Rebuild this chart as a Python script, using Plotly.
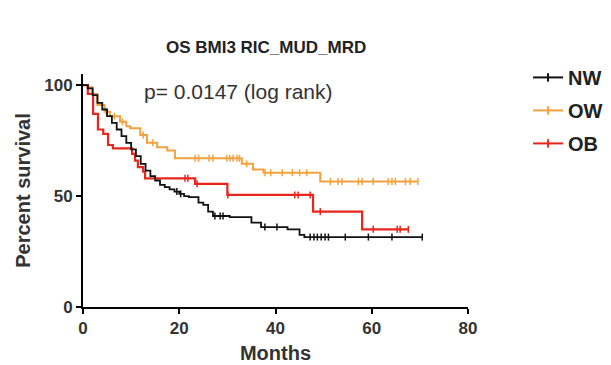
import numpy as np
import plotly.graph_objects as go

# ---- data ----
groups = ["NW", "OW", "OB"]

NW_t = [0, 1, 2, 3, 4, 5, 6, 7, 8, 9, 10, 11, 12, 13, 14, 15, 16, 17, 18, 19, 20, 21, 22, 24, 25, 26, 27, 30.5, 35, 37, 42.5, 45, 46]
NW_s = [100, 98.5, 95.5, 92, 89, 86, 83, 80, 77, 74, 71, 68, 64.5, 61.5, 59, 57, 55, 54, 53, 52, 51, 50, 49.5, 47, 46, 43, 41, 40.5, 38, 36, 35, 32.5, 31.5]
NW_end = 70.5
NW_c = [19.5, 20.3, 27.4, 28.5, 29.1, 37.8, 40.3, 47.2, 48, 48.7, 49.5, 50.3, 51, 54.5, 59.3, 64.2, 70.5]

OW_t = [0, 1, 2, 3, 4.5, 5.6, 7.7, 9, 9.8, 11.9, 13.3, 15.4, 17.5, 19.1, 33, 35.3, 37.5, 49.3]
OW_s = [100, 99, 96, 91, 88, 86, 83.5, 81.5, 80.5, 77.5, 74, 72, 70.5, 67, 64.5, 62, 60.5, 56.5]
OW_end = 69.6
OW_c = [4.8, 6.5, 8.2, 12.5, 14.5, 23.3, 24, 26.2, 27, 29.9, 30.5, 31.2, 32, 32.5, 34, 37.8, 39, 41.4, 43.5, 45, 46.5,
        51.4, 53, 53.8, 57.2, 58, 60.3, 63.4, 64.2, 64.9, 67, 68, 69.6]

OB_t = [0, 1, 2.1, 3.1, 4.2, 5.2, 6.2, 10.2, 10.8, 11.4, 12.5, 12.9, 23.3, 30, 47.8, 58]
OB_s = [100, 96, 87, 80, 78, 73, 71.5, 69, 66, 63, 61, 58, 55.5, 50.5, 43, 35]
OB_end = 67.6
OB_c = [21.2, 21.8, 23.7, 30.1, 44, 44.7, 47.2, 49.3, 60.3, 65.3, 65.9, 67.6]

x_ticks = [0, 20, 40, 60, 80]
y_ticks = [0, 50, 100]

colors = {"NW": "#111111", "OW": "#F2A23C", "OB": "#E8261C"}
widths = {"NW": 1.8, "OW": 2.0, "OB": 2.2}

series = {
    "NW": (NW_t, NW_s, NW_end, NW_c),
    "OW": (OW_t, OW_s, OW_end, OW_c),
    "OB": (OB_t, OB_s, OB_end, OB_c),
}

FONT = "Liberation Sans, Arial"

fig = go.Figure()

for g in ["OW", "OB", "NW"]:
    t, s, end, c = series[g]
    xs = list(t) + [end]
    ys = list(s) + [s[-1]]
    fig.add_trace(go.Scatter(x=xs, y=ys, mode="lines", line=dict(color=colors[g], width=widths[g], shape="hv"),
                             showlegend=False, hoverinfo="skip"))
    ta = np.array(t, dtype=float)
    idx = np.searchsorted(ta, np.array(c, dtype=float), side="right") - 1
    cy = np.array(s, dtype=float)[idx]
    fig.add_trace(go.Scatter(x=c, y=cy, mode="markers",
                             marker=dict(symbol="line-ns", size=5, line=dict(color=colors[g], width=1.5)),
                             showlegend=False, hoverinfo="skip"))

# legend entries
for g in groups:
    fig.add_trace(go.Scatter(x=[None], y=[None], mode="lines+markers", name=f"<b>{g}</b>", legendgroup=g,
                             line=dict(color=colors[g], width=2),
                             marker=dict(symbol="line-ns", size=6, line=dict(color=colors[g], width=2))))

fig.add_annotation(x=0.153, y=97.2, xref="paper", yref="y", text="p= 0.0147 (log rank)", showarrow=False,
                   xanchor="left", yanchor="middle", font=dict(family=FONT, size=21, color="#333333"))

# page body has an 8px margin: figure is sized/positioned to compensate
fig.update_layout(
    width=603, height=357,
    margin=dict(l=75, r=143, t=66, b=58, autoexpand=False),
    paper_bgcolor="white", plot_bgcolor="white",
    title=dict(text="<b>OS BMI3 RIC_MUD_MRD</b>", x=0.428, xanchor="center", y=0.891, yanchor="middle",
               font=dict(family=FONT, size=17, color="#222222")),
    legend=dict(x=1.156, y=1.069, xanchor="left", yanchor="top", font=dict(family=FONT, size=20, color="#222222"),
                tracegroupgap=4, itemwidth=30, bgcolor="rgba(0,0,0,0)"),
    font=dict(family=FONT, color="#333333"),
)

fig.update_xaxes(range=[0, 80], tickvals=x_ticks, ticktext=[f"<b>{v}</b>" for v in x_ticks],
                 showgrid=False, zeroline=False, showline=True, linecolor="black", linewidth=2,
                 ticks="outside", ticklen=5, tickwidth=2, tickcolor="black", automargin=False,
                 tickfont=dict(size=17, color="#333333"),
                 title=dict(text="<b>Months</b>", font=dict(size=20, color="#333333"), standoff=9))
fig.update_yaxes(range=[0, 105], tickvals=y_ticks, ticktext=[f"<b>{v}</b>" for v in y_ticks],
                 showgrid=False, zeroline=False, showline=True, linecolor="black", linewidth=2,
                 ticks="outside", ticklen=5, tickwidth=2, tickcolor="black", automargin=False,
                 tickfont=dict(size=17, color="#333333"),
                 title=dict(text="<b>Percent survival</b>", font=dict(size=20, color="#333333"), standoff=8))

fig.write_html("out.html")
